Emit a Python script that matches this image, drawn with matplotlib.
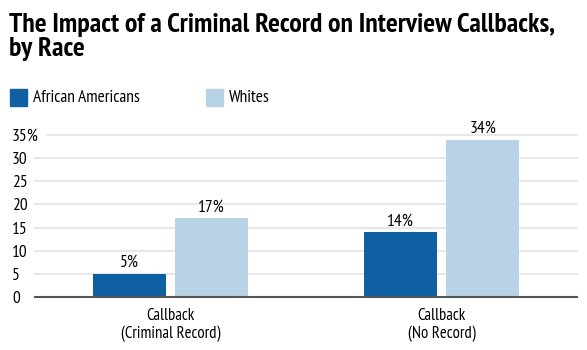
import matplotlib as mpl
mpl.use('Agg')
import matplotlib.pyplot as plt
import numpy as np

categories = ['Callback\n(Criminal Record)', 'Callback\n(No Record)']
african_americans = [5, 14]
whites = [17, 34]
series_names = ['African Americans', 'Whites']
yticks = [0, 5, 10, 15, 20, 25, 30, 35]
ytick_labels = ['0', '5', '10', '15', '20', '25', '30', '35%']

dark = '#0f5fa3'
light = '#b8d2e6'

plt.rcParams['font.family'] = ['PT Sans Narrow', 'DejaVu Sans']

fig = plt.figure(figsize=(5.87, 3.5), dpi=100)
ax = fig.add_axes([35/587, 1 - 297/350, 542/587, 162/350])

x = np.arange(len(categories))
w = 0.27
off = 0.1515
b1 = ax.bar(x - off, african_americans, w, color=dark, zorder=3)
b2 = ax.bar(x + off, whites, w, color=light, zorder=3)

for bars, vals in ((b1, african_americans), (b2, whites)):
    for r, v in zip(bars, vals):
        ax.text(r.get_x() + r.get_width()/2, v + 0.6, '%d%%' % v,
                ha='center', va='bottom', fontsize=12.5)

ax.set_xlim(-0.5, 1.5)
ax.set_ylim(0, 35)
for s in ['top', 'right', 'left']:
    ax.spines[s].set_visible(False)
ax.spines['bottom'].set_color('#555555')
ax.spines['bottom'].set_linewidth(1.5)
ax.spines['bottom'].set_zorder(4)

# gridlines, the top one starts a bit further right
for t in yticks[1:]:
    start = 12/542 if t == 35 else 0
    ax.axhline(t, xmin=start, xmax=1, color='#e3e3e3', lw=1.2, zorder=1, clip_on=False)

ax.set_yticks(yticks)
ax.set_yticklabels(ytick_labels, fontsize=12.5)
ax.tick_params(axis='y', length=0, pad=16.5)
for lab in ax.get_yticklabels():
    lab.set_horizontalalignment('left')

ax.set_xticks(x)
ax.set_xticklabels(categories, fontsize=12, linespacing=1.15)
ax.tick_params(axis='x', length=0, pad=8)

fig.text(9/587, 1 - 13/350, 'The Impact of a Criminal Record on Interview Callbacks,\nby Race',
         ha='left', va='top', fontsize=20, fontweight='bold', linespacing=1.0)

# legend
fig.patches.append(mpl.patches.Rectangle((10/587, 1 - 106/350), 17/587, 17/350,
                   transform=fig.transFigure, color=dark))
fig.text(33/587, 1 - 98/350, series_names[0], ha='left', va='center', fontsize=12.5)
fig.patches.append(mpl.patches.Rectangle((206/587, 1 - 106/350), 17/587, 17/350,
                   transform=fig.transFigure, color=light))
fig.text(229/587, 1 - 98/350, series_names[1], ha='left', va='center', fontsize=12.5)

fig.savefig('out.png', dpi=100)
